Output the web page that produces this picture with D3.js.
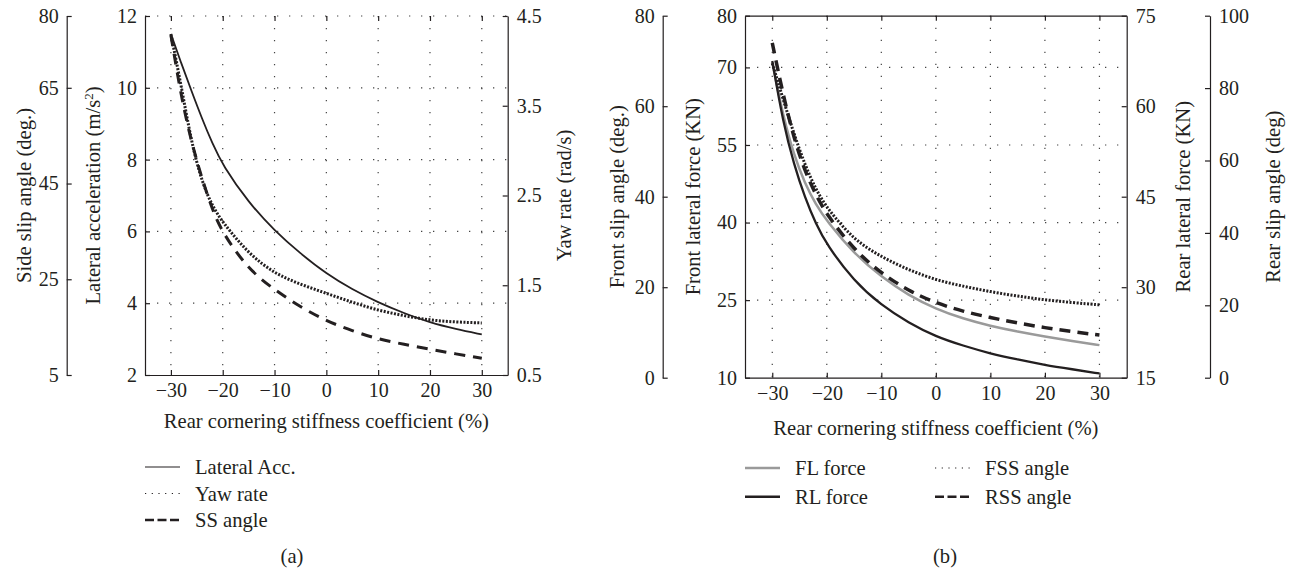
<!DOCTYPE html>
<html>
<head>
<meta charset="utf-8">
<script src="https://d3js.org/d3.v7.min.js"></script>
<style>
  body { margin: 0; background: #fff; }
  svg text { font-family: "Liberation Serif", "DejaVu Serif", serif; fill: #231f20; }
  .axis path, .axis line { stroke: #231f20; stroke-width: 1.2; }
  .axis text { font-size: 20px; }
  .grid line { stroke: #444; stroke-width: 1.2; stroke-dasharray: 1.3 10.7; }
</style>
</head>
<body>
<div id="chart"></div>
<script>
// ---- data ----
const coeffA = [-30, -28, -26, -24, -22, -20, -15, -10, -5, 0, 5, 10, 15, 20, 25, 30];
const lateralAcc = [11.5, 10.68, 9.9, 9.14, 8.45, 7.84, 6.8, 6.02, 5.38, 4.82, 4.38, 4.02, 3.72, 3.46, 3.28, 3.13];
const yawRate = [4.3, 3.72, 3.08, 2.65, 2.38, 2.2, 1.85, 1.63, 1.51, 1.41, 1.31, 1.22, 1.16, 1.11, 1.09, 1.08];
const ssAngle = [76, 63, 53.5, 46, 39.5, 34.6, 27, 22.8, 19.2, 16.3, 14.2, 12.5, 11.4, 10.4, 9.4, 8.5];

const coeffB = [-30, -28, -26, -24, -22, -20, -15, -10, -5, 0, 5, 10, 15, 20, 25, 30];
const flForce = [71, 60.5, 53, 47.5, 43.5, 40.3, 34, 29.5, 25.9, 23.3, 21.4, 20.0, 18.9, 17.95, 17.1, 16.3];
const rlForce = [67.5, 57.2, 50.3, 44.8, 40.5, 37.0, 31.0, 27.0, 24.1, 21.8, 20.3, 19.0, 18.0, 17.1, 16.4, 15.7];
const fssAngle = [69.5, 61.5, 53.8, 47, 41.6, 37.5, 30.4, 26.7, 23.8, 21.6, 20.2, 19.0, 18.0, 17.2, 16.6, 16.1];
const rssAngle = [92.5, 78, 66, 57, 50.5, 45, 35.3, 28.8, 24, 20.6, 18.3, 16.6, 15.1, 13.8, 12.7, 11.8];

const xTicks = [-30, -20, -10, 0, 10, 20, 30];
const accTicks = [2, 4, 6, 8, 10, 12];
const yawTicks = [0.5, 1.5, 2.5, 3.5, 4.5];
const ssTicks = [5, 25, 45, 65, 80];
const flTicks = [10, 25, 40, 55, 70, 80];
const fsTicks = [0, 20, 40, 60, 80];
const rlTicks = [15, 30, 45, 60, 75];
const rsTicks = [0, 20, 40, 60, 80, 100];

const xTitle = "Rear cornering stiffness coefficient (%)";

const svg = d3.select("#chart").append("svg")
    .attr("width", 1292)
    .attr("height", 571);

const ink = "#231f20";
const fs = "20.6px";

// helper: rotated axis title
function yTitle(x, y, txt) {
    return svg.append("text")
        .attr("transform", `translate(${x},${y}) rotate(-90)`)
        .attr("text-anchor", "middle")
        .attr("dy", "0.35em")
        .style("font-size", fs)
        .text(txt);
}

// helper: draw a series
function drawLine(xs, vals, xScale, yScale, stroke, width, dash) {
    const line = d3.line()
        .x((d, i) => xScale(xs[i]))
        .y(d => yScale(d))
        .curve(d3.curveBasis);
    svg.append("path")
        .datum(vals)
        .attr("d", line)
        .attr("fill", "none")
        .attr("stroke", stroke)
        .attr("stroke-width", width)
        .attr("stroke-dasharray", dash || null);
}

const minus = d => d < 0 ? "\u2212" + Math.abs(d) : d;

// ================= panel (a) =================
const xA = d3.scaleLinear().domain([-35, 35]).range([145, 507.7]);
const yAcc = d3.scaleLinear().domain([2, 12]).range([375, 16]);
const yYaw = d3.scaleLinear().domain([0.5, 4.5]).range([375, 16]);
const ySS = d3.scaleLinear().domain([5, 80]).range([375, 16]);

// grid
const gridA = svg.append("g").attr("class", "grid");
gridA.selectAll(".v").data(xTicks).join("line")
    .attr("x1", d => xA(d)).attr("x2", d => xA(d))
    .attr("y1", 16).attr("y2", 375);
gridA.selectAll(".h").data(accTicks.slice(1)).join("line")
    .attr("x1", 145).attr("x2", 507.7)
    .attr("y1", d => yAcc(d)).attr("y2", d => yAcc(d));

// axes
svg.append("g").attr("class", "axis")
    .attr("transform", "translate(0,375)")
    .call(d3.axisBottom(xA).tickValues(xTicks).tickSize(-5).tickSizeOuter(0).tickPadding(8).tickFormat(minus));
svg.append("g").attr("class", "axis")
    .attr("transform", "translate(0,16)")
    .call(d3.axisTop(xA).tickValues(xTicks).tickSize(-5).tickFormat(""))
    .select(".domain").remove();
svg.append("g").attr("class", "axis")
    .attr("transform", "translate(145,0)")
    .call(d3.axisLeft(yAcc).tickValues(accTicks).tickSize(-5).tickSizeOuter(0).tickPadding(8));
svg.append("g").attr("class", "axis")
    .attr("transform", "translate(507.7,0)")
    .call(d3.axisRight(yYaw).tickValues(yawTicks).tickSize(-5).tickSizeOuter(0).tickPadding(9));
svg.append("g").attr("class", "axis")
    .attr("transform", "translate(66.7,0)")
    .call(d3.axisLeft(ySS).tickValues(ssTicks).tickSize(-5).tickSizeOuter(0).tickPadding(8));

yTitle(24, 195.5, "Side slip angle (deg.)");
const accT = yTitle(93, 195.5, "Lateral acceleration (m/s");
accT.append("tspan").attr("baseline-shift", "super").style("font-size", "13px").text("2");
accT.append("tspan").text(")");
yTitle(564, 195.5, "Yaw rate (rad/s)");

svg.append("text")
    .attr("x", xA(0)).attr("y", 428)
    .attr("text-anchor", "middle").style("font-size", fs)
    .text(xTitle);

drawLine(coeffA, lateralAcc, xA, yAcc, ink, 1.8);
drawLine(coeffA, yawRate, xA, yYaw, ink, 3, "2 1.5");
drawLine(coeffA, ssAngle, xA, ySS, ink, 3, "11 8");

// legend (a)
const legA = [
    { label: "Lateral Acc.", w: 1.2, dash: null },
    { label: "Yaw rate", w: 1.2, dash: "1.2 5.5" },
    { label: "SS angle", w: 2.5, dash: "9 3.5" }
];
legA.forEach((d, i) => {
    const yy = 467 + i * 26.5;
    svg.append("line")
        .attr("x1", 145).attr("x2", 180).attr("y1", yy).attr("y2", yy)
        .attr("stroke", ink).attr("stroke-width", d.w).attr("stroke-dasharray", d.dash);
    svg.append("text")
        .attr("x", 195).attr("y", yy).attr("dy", "0.35em")
        .style("font-size", fs).text(d.label);
});
svg.append("text").attr("x", 292).attr("y", 563)
    .attr("text-anchor", "middle").style("font-size", fs).text("(a)");

// ================= panel (b) =================
const xB = d3.scaleLinear().domain([-35, 35]).range([745, 1126.7]);
const yFL = d3.scaleLinear().domain([10, 80]).range([377.7, 15.7]);
const yFS = d3.scaleLinear().domain([0, 80]).range([377.7, 15.7]);
const yRL = d3.scaleLinear().domain([15, 75]).range([377.7, 15.7]);
const yRS = d3.scaleLinear().domain([0, 100]).range([377.7, 15.7]);

const gridB = svg.append("g").attr("class", "grid");
gridB.selectAll(".v").data(xTicks).join("line")
    .attr("x1", d => xB(d)).attr("x2", d => xB(d))
    .attr("y1", 15.7).attr("y2", 377.7);
gridB.selectAll(".h").data([25, 40, 55, 70]).join("line")
    .attr("x1", 745).attr("x2", 1126.7)
    .attr("y1", d => yFL(d)).attr("y2", d => yFL(d));

svg.append("g").attr("class", "axis")
    .attr("transform", "translate(0,377.7)")
    .call(d3.axisBottom(xB).tickValues(xTicks).tickSize(-5).tickSizeOuter(0).tickPadding(8).tickFormat(minus));
svg.append("g").attr("class", "axis")
    .attr("transform", "translate(0,15.7)")
    .call(d3.axisTop(xB).tickValues(xTicks).tickSize(-5).tickSizeOuter(0).tickFormat(""));
svg.append("g").attr("class", "axis")
    .attr("transform", "translate(745,0)")
    .call(d3.axisLeft(yFL).tickValues(flTicks).tickSize(-5).tickSizeOuter(0).tickPadding(8));
svg.append("g").attr("class", "axis")
    .attr("transform", "translate(1126.7,0)")
    .call(d3.axisRight(yRL).tickValues(rlTicks).tickSize(-5).tickSizeOuter(0).tickPadding(9));
svg.append("g").attr("class", "axis")
    .attr("transform", "translate(662.7,0)")
    .call(d3.axisLeft(yFS).tickValues(fsTicks).tickSize(-5).tickSizeOuter(0).tickPadding(8));
svg.append("g").attr("class", "axis")
    .attr("transform", "translate(1210,0)")
    .call(d3.axisRight(yRS).tickValues(rsTicks).tickSize(-5).tickSizeOuter(0).tickPadding(9));

yTitle(617, 196.7, "Front slip angle (deg.)");
yTitle(693, 196.7, "Front lateral force (KN)");
yTitle(1183, 196.7, "Rear lateral force (KN)");
yTitle(1273, 196.7, "Rear slip angle (deg)");

svg.append("text")
    .attr("x", xB(0)).attr("y", 435)
    .attr("text-anchor", "middle").style("font-size", fs)
    .text(xTitle);

drawLine(coeffB, flForce, xB, yFL, "#9a9a9a", 2.5);
drawLine(coeffB, rlForce, xB, yRL, ink, 2.3);
drawLine(coeffB, fssAngle, xB, yFS, ink, 3, "2 1.5");
drawLine(coeffB, rssAngle, xB, yRS, ink, 3.5, "11 7");

// legend (b)
const legB = [
    { label: "FL force", x: 745, y: 468, c: "#9a9a9a", w: 2.5, dash: null },
    { label: "RL force", x: 745, y: 496.7, c: ink, w: 2.5, dash: null },
    { label: "FSS angle", x: 935, y: 468, c: ink, w: 1.2, dash: "1.2 5.5" },
    { label: "RSS angle", x: 935, y: 496.7, c: ink, w: 2.5, dash: "9 3.5" }
];
legB.forEach(d => {
    svg.append("line")
        .attr("x1", d.x).attr("x2", d.x + 35).attr("y1", d.y).attr("y2", d.y)
        .attr("stroke", d.c).attr("stroke-width", d.w).attr("stroke-dasharray", d.dash);
    svg.append("text")
        .attr("x", d.x + 50).attr("y", d.y).attr("dy", "0.35em")
        .style("font-size", fs).text(d.label);
});
svg.append("text").attr("x", 945).attr("y", 563)
    .attr("text-anchor", "middle").style("font-size", fs).text("(b)");
</script>
</body>
</html>
